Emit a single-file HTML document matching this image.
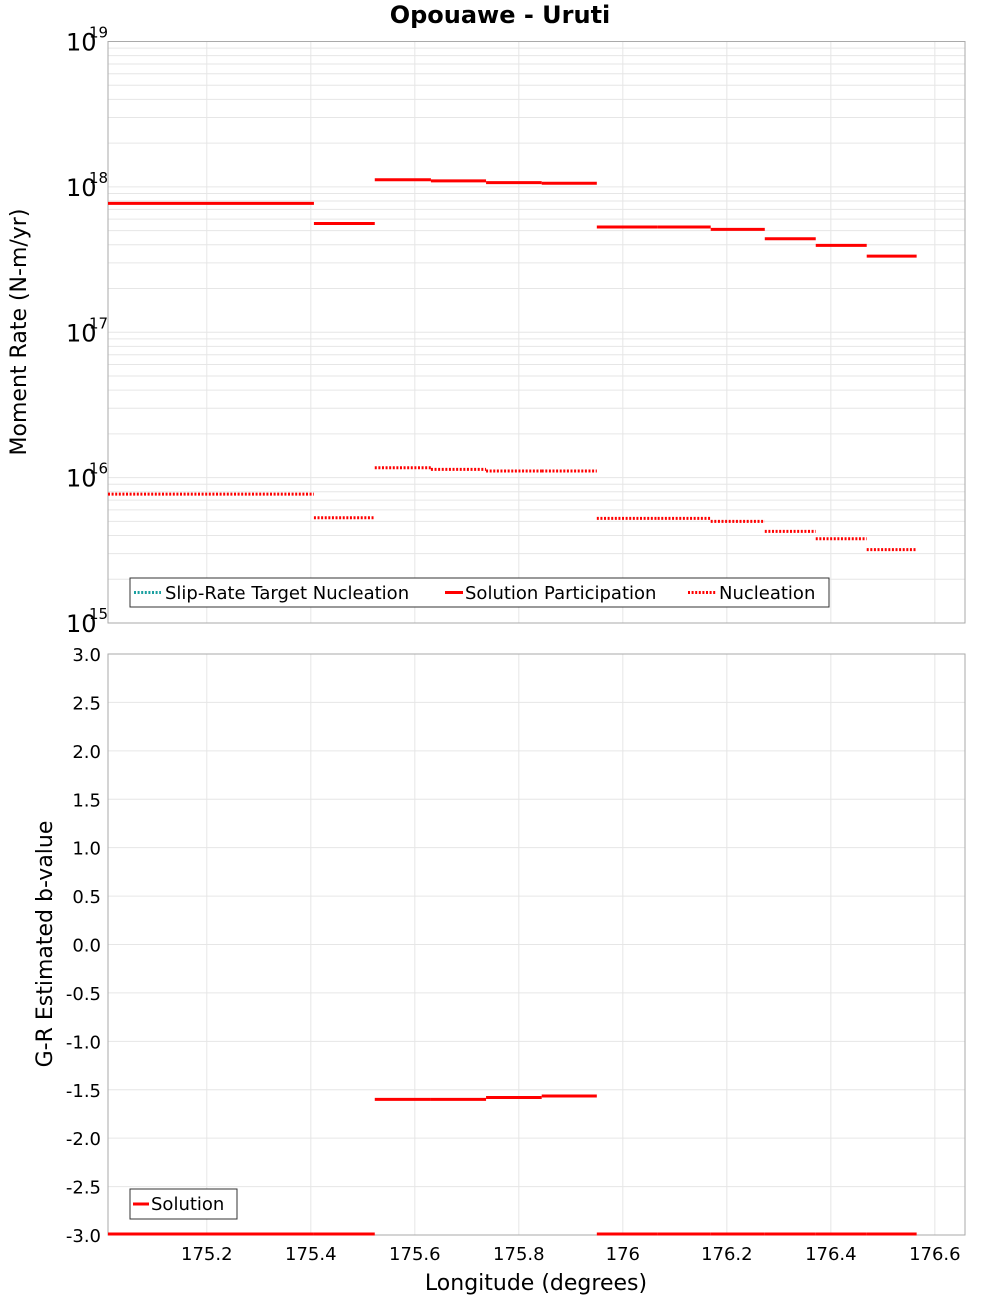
<!DOCTYPE html>
<html><head><meta charset="utf-8"><style>
body{margin:0;background:#fff;}
svg{display:block;font-family:"DejaVu Sans","Liberation Sans",sans-serif;}
</style></head><body>
<svg id="chart" width="1000" height="1300" viewBox="0 0 1000 1300" xmlns="http://www.w3.org/2000/svg">
<text x="500" y="23" text-anchor="middle" font-size="24" font-weight="bold">Opouawe - Uruti</text>
<g id="topg"></g><g id="botg"></g>
</svg>
<script>
const bounds=[175.010,175.406,175.523,175.631,175.737,175.844,175.950,176.067,176.169,176.273,176.371,176.469,176.565,176.658];
const participation=[7.7e17,5.6e17,1.12e18,1.10e18,1.07e18,1.06e18,5.3e17,5.3e17,5.1e17,4.4e17,3.96e17,3.34e17];
const nucleation=[7.7e15,5.3e15,1.17e16,1.14e16,1.11e16,1.11e16,5.24e15,5.24e15,5.0e15,4.27e15,3.8e15,3.2e15];
const bvalue=[-3,-3,-1.60,-1.60,-1.58,-1.565,-3,-3,-3,-3,-3,-3];
const xTicks=[175.2,175.4,175.6,175.8,176,176.2,176.4,176.6];
const xTickLabels=["175.2","175.4","175.6","175.8","176","176.2","176.4","176.6"];
const yExps=[15,16,17,18,19];
const bTicks=[3,2.5,2,1.5,1,0.5,0,-0.5,-1,-1.5,-2,-2.5,-3];
const bTickLabels=["3.0","2.5","2.0","1.5","1.0","0.5","0.0","-0.5","-1.0","-1.5","-2.0","-2.5","-3.0"];

const NS="http://www.w3.org/2000/svg";
const L=108,R=965,T1=41.5,B1=623,T2=654,B2=1235;
const XMIN=175.010,XMAX=176.658;
const sx=v=>L+(v-XMIN)/(XMAX-XMIN)*(R-L);
const sy1=v=>B1-(Math.log10(v)-15)/4*(B1-T1);
const sy2=v=>B2-(v+3)/6*(B2-T2);
function el(p,tag,a,txt){const e=document.createElementNS(NS,tag);for(const k in a)e.setAttribute(k,a[k]);if(txt!==undefined)e.textContent=txt;p.appendChild(e);return e;}
const topG=document.getElementById('topg'),botG=document.getElementById('botg');
for(let e=15;e<19;e++)for(let m=1;m<10;m++){const y=sy1(m*Math.pow(10,e));
 const g=el(topG,'line',{x1:L,x2:R,y1:y,y2:y,stroke:'#e6e6e6','stroke-width':1});
 
 }
xTicks.forEach((v,i)=>{const x=sx(v);
 const g=el(topG,'line',{x1:x,x2:x,y1:T1,y2:B1,stroke:'#e6e6e6'});
 
 
 const g2=el(botG,'line',{x1:x,x2:x,y1:T2,y2:B2,stroke:'#e6e6e6'});
 
 
 const t=el(botG,'text',{x:x,y:1260,'text-anchor':'middle','font-size':18},xTickLabels[i]);
 
 });
bTicks.forEach((v,i)=>{const y=sy2(v);
 const g=el(botG,'line',{x1:L,x2:R,y1:y,y2:y,stroke:'#e6e6e6'});
 
 
 const t=el(botG,'text',{x:101,y:y+7,'text-anchor':'end','font-size':18},bTickLabels[i]);
 
 });
yExps.forEach(e=>{const y=sy1(Math.pow(10,e));
 const t=el(topG,'text',{x:66,y:y+9,'font-size':24},'10');
 
 
 const s=el(topG,'text',{x:89,y:y-4,'font-size':15},String(e));
 
 });
const f1=el(topG,'rect',{x:L,y:T1,width:R-L,height:B1-T1,fill:'none',stroke:'#aaa'});


const f2=el(botG,'rect',{x:L,y:T2,width:R-L,height:B2-T2,fill:'none',stroke:'#aaa'});


participation.forEach((v,i)=>{const y=sy1(v);
 const l=el(topG,'line',{x1:sx(bounds[i]),x2:sx(bounds[i+1]),y1:y,y2:y,stroke:'#f00','stroke-width':3});
 
 });
nucleation.forEach((v,i)=>{const y=sy1(v);
 const l=el(topG,'line',{x1:sx(bounds[i]),x2:sx(bounds[i+1]),y1:y,y2:y,stroke:'#f00','stroke-width':3,'stroke-dasharray':'2,1.6'});
 
 });
bvalue.forEach((v,i)=>{const y=Math.min(sy2(v),B2-1);
 const l=el(botG,'line',{x1:sx(bounds[i]),x2:sx(bounds[i+1]),y1:y,y2:y,stroke:'#f00','stroke-width':3});
 
 });
const lg=el(topG,'g',{});


el(lg,'rect',{x:130,y:578,width:699,height:29,fill:'#fff',stroke:'#333'});
el(lg,'line',{x1:134,x2:161,y1:592.5,y2:592.5,stroke:'#1aa0a0','stroke-width':3,'stroke-dasharray':'2,1.6'});
el(lg,'text',{x:165,y:599,'font-size':18},'Slip-Rate Target Nucleation');
el(lg,'line',{x1:445,x2:463,y1:592.5,y2:592.5,stroke:'#f00','stroke-width':3});
el(lg,'text',{x:465,y:599,'font-size':18},'Solution Participation');
el(lg,'line',{x1:688,x2:716,y1:592.5,y2:592.5,stroke:'#f00','stroke-width':3,'stroke-dasharray':'2,1.6'});
el(lg,'text',{x:719,y:599,'font-size':18},'Nucleation');
const lg2=el(botG,'g',{});


el(lg2,'rect',{x:130,y:1189,width:107,height:30,fill:'#fff',stroke:'#333'});
el(lg2,'line',{x1:133,x2:149,y1:1204,y2:1204,stroke:'#f00','stroke-width':3});
el(lg2,'text',{x:151,y:1210,'font-size':18},'Solution');
const a1=el(topG,'text',{x:0,y:0,'font-size':22,'text-anchor':'middle',transform:'translate(26,332) rotate(-90)'},'Moment Rate (N-m/yr)');


const a2=el(botG,'text',{x:0,y:0,'font-size':22,'text-anchor':'middle',transform:'translate(52,944) rotate(-90)'},'G-R Estimated b-value');


const a3=el(botG,'text',{x:536,y:1290,'font-size':22,'text-anchor':'middle'},'Longitude (degrees)');


</script>
</body></html>
